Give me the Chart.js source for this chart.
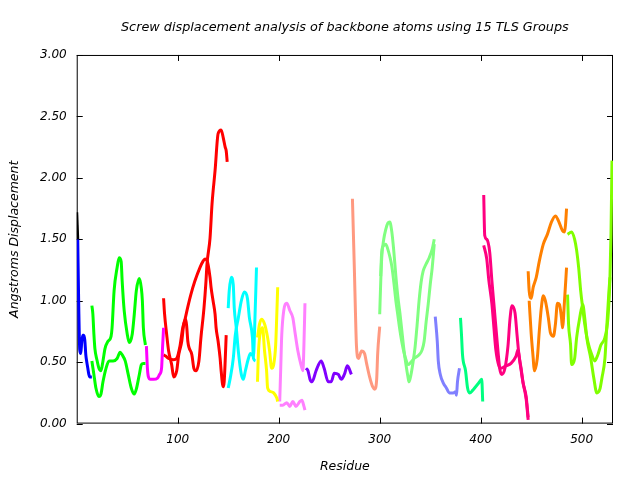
<!DOCTYPE html>
<html>
<head>
<meta charset="utf-8">
<script src="https://cdn.jsdelivr.net/npm/chart.js@4.4.1/dist/chart.umd.min.js"></script>
<style>
  body { margin: 0; background: #fff; }
  #wrap { width: 640px; height: 480px; }
</style>
</head>
<body>
<div id="wrap"><canvas id="myChart" width="640" height="480"></canvas></div>
<script>
// [residue, displacement] pairs, one array per trace
const blackA = [[0, 1.72], [1, 1.50]];
const blueA = [[1, 1.50], [2, 0.95], [3, 0.60], [4, 0.57], [5, 0.67], [6, 0.72], [7, 0.72], [8, 0.68], [9, 0.56], [10, 0.50], [11, 0.45], [12, 0.40], [13, 0.38], [15, 0.38]];
const greenA = [[15, 0.96], [16, 0.89], [17, 0.73], [18, 0.61], [20, 0.52], [22, 0.45], [24, 0.43], [26, 0.51], [28, 0.61], [31, 0.67], [34, 0.71], [35, 0.78], [37, 1.08], [40, 1.27], [42, 1.35], [44, 1.32], [45, 1.16], [47, 0.92], [50, 0.73], [52, 0.66], [55, 0.73], [57, 0.89], [59, 1.08], [62, 1.18], [64, 1.10], [65, 1.00], [66, 0.78], [68, 0.64]];
const greenB = [[15, 0.51], [17, 0.40], [19, 0.29], [22, 0.22], [24, 0.24], [26, 0.34], [29, 0.45], [32, 0.51], [36, 0.51], [40, 0.53], [43, 0.58], [45, 0.56], [48, 0.51], [51, 0.40], [54, 0.29], [57, 0.24], [59, 0.28], [62, 0.40], [64, 0.48], [66, 0.49], [68, 0.49]];
const magentaA = [[69, 0.63], [70, 0.45], [71, 0.38], [73, 0.36], [76, 0.36], [80, 0.37], [82, 0.40], [84, 0.45], [85, 0.62], [86, 0.78]];
const redA = [[86, 1.02], [87, 0.89], [89, 0.73], [91, 0.59], [94, 0.48], [96, 0.38], [99, 0.43], [101, 0.56], [104, 0.67], [106, 0.81], [108, 0.85], [109, 0.78], [110, 0.67], [114, 0.56], [116, 0.45], [118, 0.43], [121, 0.51], [123, 0.70], [126, 0.94], [128, 1.16], [129, 1.30], [132, 1.51], [134, 1.79], [137, 2.06], [140, 2.36], [143, 2.39], [145, 2.33], [147, 2.25], [148, 2.22], [149, 2.13]];
const redB = [[86, 0.56], [88, 0.55], [91, 0.53], [96, 0.52], [99, 0.53], [102, 0.62], [105, 0.78], [107, 0.84], [110, 0.95], [113, 1.05], [117, 1.16], [122, 1.27], [125, 1.32], [127, 1.34], [129, 1.33], [132, 1.19], [133, 1.11], [135, 1.00], [137, 0.89], [138, 0.78], [140, 0.67], [142, 0.53], [143, 0.43], [145, 0.30], [146, 0.34], [147, 0.51], [148, 0.72]];
const cyanA = [[150, 0.94], [151, 1.08], [153, 1.19], [155, 1.13], [156, 0.94], [158, 0.78], [160, 0.59], [163, 0.40], [165, 0.36], [167, 0.43], [170, 0.53], [172, 0.57], [175, 0.55], [176, 0.73], [178, 1.27]];
const cyanB = [[150, 0.29], [152, 0.37], [155, 0.53], [157, 0.72], [160, 0.86], [163, 1.00], [166, 1.07], [169, 1.02], [171, 0.86], [174, 0.70], [175, 0.53], [177, 0.51]];
const yellowA = [[179, 0.70], [181, 0.81], [183, 0.85], [186, 0.81], [189, 0.70], [191, 0.59], [193, 0.45], [195, 0.48], [197, 0.64], [198, 0.86], [199, 1.11]];
const yellowB = [[179, 0.34], [180, 0.59], [182, 0.75], [184, 0.78], [186, 0.59], [188, 0.43], [189, 0.29], [192, 0.26], [195, 0.25], [198, 0.21], [199, 0.18]];
const pinkA = [[201, 0.18], [202, 0.45], [203, 0.72], [205, 0.92], [208, 0.98], [211, 0.92], [214, 0.86], [216, 0.75], [219, 0.59], [222, 0.48], [224, 0.43], [225, 0.65], [226, 0.98]];
const pinkB = [[201, 0.15], [204, 0.15], [208, 0.17], [211, 0.14], [214, 0.18], [217, 0.14], [221, 0.18], [223, 0.19], [225, 0.14], [226, 0.11]];
const purpleA = [[227, 0.45], [229, 0.43], [231, 0.36], [233, 0.34], [237, 0.43], [242, 0.51], [245, 0.45], [249, 0.34], [252, 0.34], [255, 0.41], [259, 0.40], [262, 0.36], [265, 0.40], [268, 0.47], [272, 0.40]];
const salmonA = [[273, 1.83], [274, 1.53], [275, 1.23], [276, 0.90], [277, 0.63], [279, 0.53], [282, 0.59], [285, 0.57], [287, 0.49], [290, 0.38], [293, 0.30], [295, 0.28], [297, 0.36], [298, 0.57], [300, 0.79]];
const lgreenA = [[300, 0.89], [301, 1.15], [302, 1.35], [304, 1.50], [306, 1.58], [308, 1.63], [310, 1.64], [312, 1.56], [314, 1.40], [316, 1.20], [318, 1.03], [320, 0.90], [322, 0.75], [324, 0.60], [326, 0.48], [328, 0.38], [329, 0.34], [331, 0.40], [333, 0.50], [335, 0.62], [337, 0.80], [339, 1.00], [341, 1.15], [343, 1.24], [346, 1.30], [349, 1.35], [352, 1.42], [354, 1.50]];
const lgreenB = [[301, 1.20], [302, 1.40], [304, 1.45], [306, 1.46], [308, 1.42], [310, 1.36], [312, 1.28], [314, 1.15], [316, 1.00], [318, 0.88], [320, 0.76], [322, 0.66], [324, 0.58], [326, 0.52], [328, 0.48], [331, 0.50], [334, 0.53], [339, 0.56], [342, 0.60], [344, 0.67], [346, 0.83], [348, 0.97], [350, 1.13], [352, 1.27], [354, 1.46]];
const lblueA = [[355, 0.87], [357, 0.67], [358, 0.51], [360, 0.40], [363, 0.33], [366, 0.29], [369, 0.25], [373, 0.25], [375, 0.26], [376, 0.23], [377, 0.34], [379, 0.45]];
const sgreenA = [[380, 0.86], [381, 0.72], [382, 0.56], [385, 0.43], [387, 0.29], [389, 0.25], [392, 0.27], [395, 0.30], [398, 0.33], [401, 0.36], [402, 0.18]];
const dpinkA = [[403, 1.86], [404, 1.53], [406, 1.50], [409, 1.39], [411, 1.17], [413, 0.98], [415, 0.79], [417, 0.60], [419, 0.44], [421, 0.40], [424, 0.45], [427, 0.63], [429, 0.85], [431, 0.96], [434, 0.90], [436, 0.72], [438, 0.55], [440, 0.45], [442, 0.33], [445, 0.22], [447, 0.05]];
const dpinkB = [[403, 1.45], [406, 1.34], [408, 1.17], [411, 0.98], [413, 0.79], [415, 0.60], [418, 0.47], [420, 0.45], [425, 0.47], [430, 0.49], [435, 0.55], [437, 0.60], [439, 0.49], [442, 0.33], [445, 0.20], [447, 0.03]];
const orangeA = [[447, 1.24], [448, 1.08], [450, 1.02], [452, 1.11], [455, 1.19], [458, 1.32], [462, 1.46], [466, 1.54], [470, 1.64], [474, 1.69], [477, 1.65], [481, 1.57], [483, 1.56], [484, 1.62], [485, 1.75]];
const orangeB = [[448, 1.00], [450, 0.73], [452, 0.53], [453, 0.43], [456, 0.53], [458, 0.75], [460, 0.94], [462, 1.04], [464, 1.00], [467, 0.86], [469, 0.74], [472, 0.71], [474, 0.81], [476, 0.98], [478, 0.97], [480, 0.86], [481, 0.78], [483, 1.00], [485, 1.27]];
const chartA = [[486, 1.54], [490, 1.56], [493, 1.50], [495, 1.41], [497, 1.27], [499, 1.08], [501, 0.94], [503, 0.81], [506, 0.67], [510, 0.56], [513, 0.51], [516, 0.56], [519, 0.64], [523, 0.70], [526, 0.86], [528, 1.19], [529, 1.54], [530, 2.14]];
const chartB = [[486, 1.05], [487, 0.81], [489, 0.64], [490, 0.48], [493, 0.53], [495, 0.70], [498, 0.86], [501, 0.97], [503, 0.86], [505, 0.70], [509, 0.53], [512, 0.37], [515, 0.25], [518, 0.28], [520, 0.37], [523, 0.53], [525, 0.81], [527, 1.08], [528, 1.19]];

const yTicks = [0, 0.5, 1, 1.5, 2, 2.5, 3];
const xTicks = [100, 200, 300, 400, 500];

const traces = [
  [blackA, "#000000"],
  [blueA, "#0000ff"],
  [greenA, "#00ff00"], [greenB, "#00ff00"],
  [magentaA, "#ff00ff"],
  [redA, "#ff0000"], [redB, "#ff0000"],
  [cyanA, "#00ffff"], [cyanB, "#00ffff"],
  [yellowA, "#ffff00"], [yellowB, "#ffff00"],
  [pinkA, "#ff80ff"], [pinkB, "#ff80ff"],
  [purpleA, "#8000ff"],
  [salmonA, "#ff9980"],
  [lgreenA, "#80ff80"], [lgreenB, "#80ff80"],
  [lblueA, "#8080ff"],
  [sgreenA, "#00ff80"],
  [dpinkA, "#ff0080"], [dpinkB, "#ff0080"],
  [orangeA, "#ff8000"], [orangeB, "#ff8000"],
  [chartA, "#80ff00"], [chartB, "#80ff00"],
];

Chart.defaults.font.family = "'DejaVu Sans', sans-serif";
Chart.defaults.font.size = 12;
Chart.defaults.font.style = "italic";
Chart.defaults.color = "#000";

// gnuplot style frame with ticks pointing inward on all four sides
const framePlugin = {
  id: "frame",
  beforeDatasetsDraw(chart) {
    const { ctx, chartArea: a, scales } = chart;
    ctx.save();
    ctx.strokeStyle = "#000";
    ctx.lineWidth = 1;
    ctx.strokeRect(a.left + 0.5, a.top + 0.5, a.right - a.left - 1, a.bottom - a.top - 1);
    ctx.beginPath();
    xTicks.forEach((v) => {
      const x = Math.round(scales.x.getPixelForValue(v)) + 0.5;
      ctx.moveTo(x, a.bottom); ctx.lineTo(x, a.bottom - 6);
      ctx.moveTo(x, a.top); ctx.lineTo(x, a.top + 6);
    });
    yTicks.forEach((v) => {
      const y = Math.round(scales.y.getPixelForValue(v)) + 0.5;
      ctx.moveTo(a.left, y); ctx.lineTo(a.left + 6, y);
      ctx.moveTo(a.right, y); ctx.lineTo(a.right - 6, y);
    });
    ctx.stroke();
    ctx.restore();
  },
};

const ctx = document.getElementById("myChart").getContext("2d");
const myChart = new Chart(ctx, {
  type: "line",
  data: {
    datasets: traces.map(([pts, color]) => ({
      data: pts.map(([x, y]) => ({ x: x, y: y })),
      borderColor: color,
      borderWidth: 3,
      pointRadius: 0,
      fill: false,
      cubicInterpolationMode: "monotone",
    })),
  },
  options: {
    responsive: false,
    animation: false,
    layout: { padding: { left: 0, right: 27, top: 0, bottom: 0 } },
    plugins: {
      legend: { display: false },
      tooltip: { enabled: false },
      title: {
        display: true,
        fullSize: false,
        text: "Screw displacement analysis of backbone atoms using 15 TLS Groups",
        font: { size: 12.8, style: "italic", weight: "normal" },
        padding: { top: 20, bottom: 19.6 },
      },
    },
    scales: {
      x: {
        type: "linear",
        min: 0,
        max: 531,
        afterBuildTicks: (scale) => {
          scale.ticks = xTicks.map((v) => ({ value: v }));
        },
        ticks: { padding: 9, maxRotation: 0 },
        grid: { display: false, drawTicks: false },
        border: { display: false },
        title: { display: true, text: "Residue", font: { size: 12.5 }, padding: { top: 3, bottom: 6 } },
      },
      y: {
        min: 0,
        max: 3,
        afterBuildTicks: (scale) => {
          scale.ticks = yTicks.map((v) => ({ value: v }));
        },
        ticks: { padding: 10, callback: (v) => Number(v).toFixed(2) },
        grid: { display: false, drawTicks: false },
        border: { display: false },
        title: { display: true, text: "Angstroms Displacement", font: { size: 12.5 }, padding: { top: 7, bottom: 8 } },
      },
    },
  },
  plugins: [framePlugin],
});
</script>
</body>
</html>
